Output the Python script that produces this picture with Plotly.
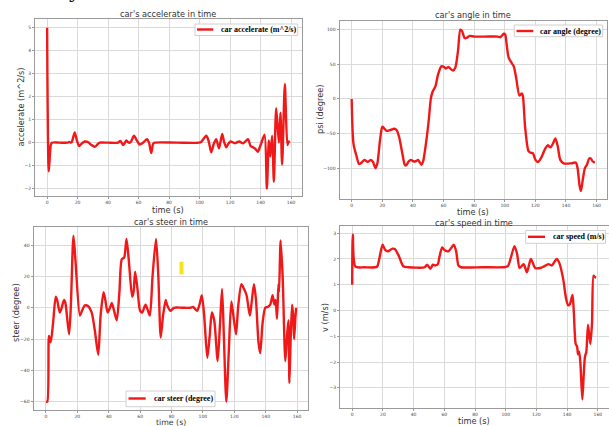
import plotly.graph_objects as go

# ---------------- data ----------------
accel_t = [0, 1.1, 2.4, 3.2, 8, 13.5, 14.5, 15.5, 16.3, 18.1, 19.5, 21, 22.5, 24.7, 27, 29, 31.2, 33, 34.5, 40, 46.5,
           48, 49.8, 51, 52, 53.5, 55, 57, 58.8, 60.7, 62.9, 65.5, 66.8, 68.3, 69.5, 70.5, 85, 99.6, 101, 104.4,
           106, 107.6, 109.3, 110.9, 112.7, 114.8, 116, 117.5, 118.8, 120.3, 123, 126, 128.5, 131.7, 133.5, 135,
           137, 138.2, 140, 142.6, 144.1, 145.4, 146.3, 147.6, 148.7, 150.2, 152, 153, 154.1, 155.9, 157.6, 158.5, 159]
accel_v = [5, -1.25, -0.1, 0, 0, 0, 0.03, 0.0, 0.05, 0.45, 0.1, -0.15, -0.05, 0.05, 0.02, -0.1, -0.18, -0.08, 0, 0, 0,
           0.08, -0.1, 0.0, 0.1, 0.0, 0.05, 0.3, 0.1, -0.08, 0.0, 0.15, 0, -0.45, -0.05, 0, 0, 0, 0.03, 0.3,
           0.05, -0.42, -0.05, 0.15, -0.25, 0.38, 0.05, -0.2, -0.05, 0.05, -0.02, 0.05, -0.03, 0.15, -0.15, -0.2,
           -0.3, -0.4, -0.1, 0.35, -2.0, 0.1, -0.6, 0.3, -1.7, 1.5, 0, 1.3, -0.95, 2.55, -0.1, 0.05, 0]

angle_t = [0, 1.2, 3.2, 4.8, 6, 8.3, 10.4, 12.6, 13.9, 15.6, 16.8, 18.5, 20, 21.1, 22.8, 25, 27.8, 29.3, 31, 33.2,
           34.7, 35.6, 37.3, 38.6, 40.2, 41.9, 43.4, 44.6, 45.6, 46.7, 48.8, 50.4, 51.7, 52.8, 54.7, 56.4, 58.6,
           60.4, 61.4, 63.4, 64.8, 66.2, 67.7, 69.5, 71, 72.1, 73.8, 75.1, 77.1, 80.3, 86.8, 95.5, 97, 99.4, 100.3,
           101.2, 102.5, 104.2, 105.9, 107.5, 109.6, 111.2, 111.9, 113.3, 115.5, 117.2, 118.3, 120.1, 121.6, 123.8,
           126.4, 128.1, 129.8, 131.6, 133.1, 134.6, 136.3, 138.5, 143.3, 146.5, 147.6, 148.9, 149.8, 151.1, 152.4,
           153.7, 155.2, 156.3, 157.4, 158.9]
angle_v = [0, -65, -83, -94, -93, -88, -91, -88, -91, -100, -93, -60, -40, -42, -46, -45, -43, -45, -55, -80,
           -95, -96, -90, -88, -90, -90, -88, -92, -95, -90, -60, -30, 0, 10, 18, 35, 47,
           46, 44, 46, 43, 41, 45, 70, 100, 98, 88, 88, 91, 90, 90, 90, 89, 94, 93,
           80, 60, 53, 47, 30, 5, 8, 4, -40, -75, -78, -78, -88, -91, -85,
           -72, -67, -70, -64, -57, -68, -88, -93, -93, -92, -100, -125, -133, -115, -100,
           -95, -86, -86, -90, -92]

steer_t = [0, 0.85, 1.9, 3, 4.5, 6.2, 7.1, 8.8, 10, 11.5, 12.4, 14.7, 15.8, 17.5, 18.8, 21.6, 22.9, 24.8, 26.9, 29.1,
           31.2, 33.3, 34.8, 36.7, 37.8, 39.3, 40.8, 41.9, 43.4, 45.1, 46.8, 48.3, 49.8, 51.3, 52.8, 54.9, 55.8,
           56.8, 58.3, 60, 61.3, 63.4, 64.7, 66.2, 67.9, 70.1, 71.6, 73.1, 74.6, 76.3, 77.1, 79.3, 81.4, 86.7, 92,
           93.8, 96.3, 97.8, 99.3, 100.8, 102.8, 104.3, 105.7, 107.2, 109.4, 110.9, 112.2, 113.4, 114.9, 116.4,
           118.1, 119.4, 121.1, 122.4, 124.5, 126.2, 127.8, 129.9, 131, 132.5, 133.8, 135.4, 136.5, 138, 139.7,
           141.2, 142.9, 144.4, 145.5, 146.3, 147.2, 148.1, 148.5, 149.5, 150.8, 152.5, 153.6, 154.5, 155.1, 155.9,
           156.8, 157.5, 158.1, 159, 159.4]
steer_v = [-60, -60, -18, -22, -10, 7, 5, -3, 0, 5, 3, -17, 0, 46, 30, -5, -2, 1.5, 1, -3,
           -15, -30, -5, 10, 5, -3, 0, 3, -2, -8, 10, 31, 32, 44, 30, 7, 10,
           23, 12, -2, -3, 2, -1, -5, 20, 44, 20, -19, -5, 5, 2, -2, 0, 0, 0,
           0.5, -2, 2, 8, -5, -32, -18, -3, -8, -34, -10, 12, -20, -60, -30,
           4, -5, -17, 0, 15, 12, 8, -5, 3, 15, 5, -22, -29, -10, 0,
           0.5, 2, 8, 2, 5, -7, 15, 10, 43, 20, -34, -18, -8, -48, -20,
           2, -5, -20, -5, 0]

speed_t = [0, 0.4, 2.1, 8, 16.1, 17.6, 19.8, 21.5, 23.2, 26.2, 27.9, 30.5, 33.3, 36.5, 47.2, 48.8, 50.9, 52.6, 54.3,
           55.8, 56.9, 58.6, 60.1, 62.7, 66.2, 67.7, 69.2, 70.9, 85, 98.8, 101.4, 103.1, 105.7, 107.4, 109.1, 111.7,
           113.8, 116.4, 119.2, 122.4, 124.6, 127.8, 130, 133.2, 134.9, 137.5, 139.2, 140.7, 141.8, 143.5, 144.3,
           145.6, 146.5, 147.1, 147.8, 148.6, 149.9, 150.8, 151.6, 152.5, 153.6, 155.1, 156.2, 157.2, 158, 158.9]
speed_v = [1.0, 2.95, 1.7, 1.68, 1.7, 2.0, 2.55, 2.35, 2.3, 2.4, 2.38, 2.1, 1.72, 1.68, 1.68, 1.78, 1.62, 1.78, 1.75,
           1.8, 2.1, 2.45, 2.35, 2.3, 2.55, 2.3, 1.75, 1.68, 1.68, 1.68, 1.72, 2.0, 2.5, 2.2, 1.65, 1.8,
           1.48, 2.0, 1.65, 1.65, 1.7, 1.8, 1.75, 2.0, 1.85, 1.2, 0.5, 0.2, 0.25, 0.6, 0.0,
           -1.3, -1.4, -1.7, -1.6, -2.0, -3.45, -2.5, -1.8, -1.6, -0.55, -1.3, -0.5, 1.35, 1.3, 1.28]

titles = ["car's accelerate in time", "car's angle in time", "car's steer in time", "car's speed in time"]
ylabels = ["accelerate (m^2/s)", "psi (degree)", "steer (degree)", "v (m/s)"]
names = ["car accelerate (m^2/s)", "car angle (degree)", "car steer (degree)", "car speed (m/s)"]
xlabel = "time (s)"

# ---------------- layout helpers ----------------
W, H = 609, 426
def px_x(x): return x / W
def px_y(y): return 1 - y / H

RED = "#f01818"
fig = go.Figure()
series = [(accel_t, accel_v), (angle_t, angle_v), (steer_t, steer_v), (speed_t, speed_v)]
for i, (t, v) in enumerate(series):
    fig.add_trace(go.Scatter(
        x=t, y=v, mode="lines", name=names[i],
        line=dict(color=RED, width=2.4, shape="spline", smoothing=0.7),
        xaxis="x" if i == 0 else f"x{i+1}", yaxis="y" if i == 0 else f"y{i+1}",
        showlegend=False))

# axes boxes in pixels: (left, right, top, bottom)
boxes = [(35, 301.7, 19, 196), (339.5, 607.2, 21, 199), (33.5, 308, 227.3, 410), (340, 608.5, 226, 407.7)]
yranges = [[-2.32, 5.38], [-144.5, 112.5], [-65.3, 51.4], [-3.77, 3.28]]
ydticks = [1, 50, 20, 1]
xrange_ = [-7.95, 166.95]

lay = dict(width=W, height=H, margin=dict(l=0, r=0, t=0, b=0),
           paper_bgcolor="white", plot_bgcolor="white", showlegend=False)
axcommon = dict(showgrid=True, gridcolor="#dadada", gridwidth=1, showline=True, linecolor="#9a9a9a",
                linewidth=1, mirror=True, ticks="outside", ticklen=2, tickcolor="#9a9a9a",
                tickfont=dict(family="DejaVu Sans", size=4.5, color="#444"), zeroline=False)
for i, (l, r, t, b) in enumerate(boxes):
    xs = "xaxis" if i == 0 else f"xaxis{i+1}"
    ys = "yaxis" if i == 0 else f"yaxis{i+1}"
    xa = "x" if i == 0 else f"x{i+1}"
    ya = "y" if i == 0 else f"y{i+1}"
    lay[xs] = dict(domain=[px_x(l), px_x(r)], range=xrange_, tick0=0, dtick=20, anchor=ya, **axcommon)
    lay[ys] = dict(domain=[px_y(b), px_y(t)], range=yranges[i], tick0=0, dtick=ydticks[i], anchor=xa, **axcommon)
fig.update_layout(**lay)

tfont = dict(family="DejaVu Sans", size=8.2, color="#333")
ann = []
shapes = []
title_pos = [(168, 14), (473, 15), (170.7, 222), (474, 223.3)]
xlab_pos = [(168, 209.5), (473, 212), (170.7, 422.3), (474, 420.8)]
xlab_size = [8.2, 8.2, 7.8, 8.2]
ylab_pos = [(20.5, 107), (320, 110), (16, 313), (325, 318)]
for i in range(4):
    ann.append(dict(text=titles[i], x=px_x(title_pos[i][0]), y=px_y(title_pos[i][1]), xref="paper", yref="paper",
                    showarrow=False, xanchor="center", yanchor="middle", font=tfont))
    ann.append(dict(text=xlabel, x=px_x(xlab_pos[i][0]), y=px_y(xlab_pos[i][1]), xref="paper", yref="paper",
                    showarrow=False, xanchor="center", yanchor="middle", borderpad=0,
                    font=dict(tfont, size=xlab_size[i])))
    ann.append(dict(text=ylabels[i], x=px_x(ylab_pos[i][0]), y=px_y(ylab_pos[i][1]), xref="paper", yref="paper",
                    showarrow=False, xanchor="center", yanchor="middle", textangle=-90, font=tfont))

# legends (box, sample line, label) in pixels: box (l, r, t, b), line (x0, x1, y), text x
legs = [((195, 297.7, 24, 35.5), (197, 213.3, 29.5), 219),
        ((514.3, 602.7, 25, 36.7), (516.5, 533.3, 31), 538),
        ((126, 215, 391, 406.7), (128.5, 145.7, 398.5), 152),
        ((525.7, 605.5, 230.5, 243.3), (528, 545, 236.8), 550.5)]
legfont = dict(family="Liberation Serif", size=8, color="black", weight="bold")
for i, ((l, r, t, b), (lx0, lx1, ly), tx) in enumerate(legs):
    shapes.append(dict(type="rect", xref="paper", yref="paper", x0=px_x(l), x1=px_x(r), y0=px_y(b), y1=px_y(t),
                       fillcolor="white", line=dict(color="#d0d0d0", width=1), layer="above"))
    shapes.append(dict(type="line", xref="paper", yref="paper", x0=px_x(lx0), x1=px_x(lx1), y0=px_y(ly), y1=px_y(ly),
                       line=dict(color=RED, width=2.4), layer="above"))
    ann.append(dict(text=names[i], x=px_x(tx), y=px_y(ly), xref="paper", yref="paper", showarrow=False,
                    xanchor="left", yanchor="middle", font=legfont))

# cropped glyph of the surrounding document at the very top
ann.append(dict(text="y", x=px_x(74.5), y=px_y(5), xref="paper", yref="paper", showarrow=False,
                xanchor="center", yanchor="bottom", font=dict(family="DejaVu Serif", size=20, color="#111")))

# yellow highlighter mark
shapes.append(dict(type="rect", xref="paper", yref="paper", x0=px_x(179.5), x1=px_x(183.5),
                   y0=px_y(274.3), y1=px_y(261.7), fillcolor="#f5e31a", line=dict(width=0)))
fig.update_layout(annotations=ann, shapes=shapes)

fig.write_html("out.html", config={"displayModeBar": False},
               post_script="document.body.style.margin='0';document.body.style.overflow='hidden';")
